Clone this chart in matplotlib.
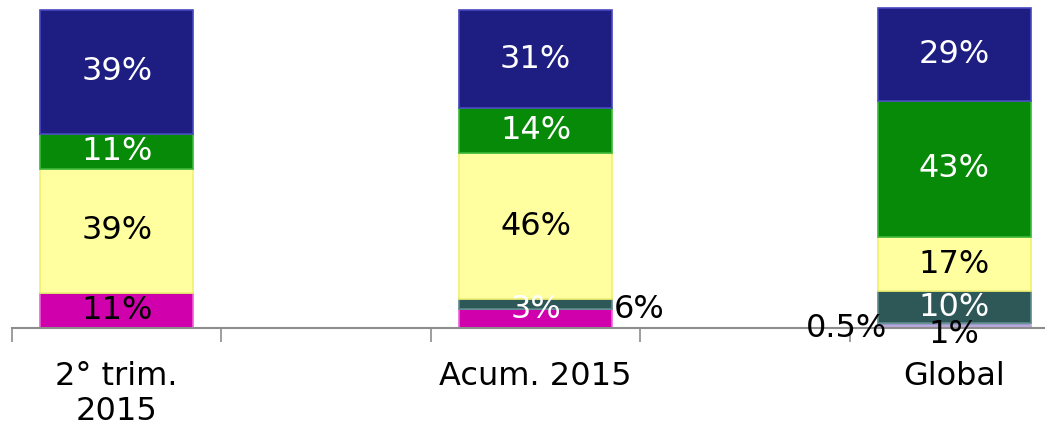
import numpy as np
import matplotlib.pyplot as plt

# categories (empty slots sit between the bars on the axis)
categories = ['2° trim.\n2015', '', 'Acum. 2015', '', 'Global']
bar_slots = [0, 2, 4]

# series, bottom to top, one value per bar
magenta = [11, 6, 0.5]
lavender = [0, 0, 1]
teal = [0, 3, 10]
yellow = [39, 46, 17]
green = [11, 14, 43]
navy = [39, 31, 29]

series = [magenta, lavender, teal, yellow, green, navy]
colors = ['#d000ac', '#9a96c8', '#2e5758', '#ffffa0', '#078a07', '#1d1d82']
edges = ['#f060d8', '#b8b4e0', '#5e8a8a', '#f0f070', '#3ab83a', '#4848c0']
text_colors = ['black', 'black', 'white', 'black', 'white', 'white']

fig = plt.figure(figsize=(10.45, 4.28), dpi=100)
ax = fig.add_axes([12 / 1045, 1 - 328 / 428, 1 - 12 / 1045, 328 / 428])

x = np.array(bar_slots, dtype=float)
width = 0.73
bottom = np.zeros(3)
rects = []
for vals, c, e in zip(series, colors, edges):
    vals = np.array(vals, dtype=float)
    r = ax.bar(x, vals, width, bottom=bottom, color=c, edgecolor=e,
               linewidth=1.2, zorder=3)
    rects.append(r)
    bottom += vals

fs = 23
# labels inside segments (skip the tiny ones, handled below)
for si, vals in enumerate(series):
    for bi, v in enumerate(vals):
        if v >= 10:
            rect = rects[si][bi]
            ax.text(rect.get_x() + rect.get_width() / 2,
                    rect.get_y() + rect.get_height() / 2,
                    f'{v:g}%', ha='center', va='center', fontsize=fs,
                    color=text_colors[si], zorder=5)

# small segments of "Acum. 2015"
r_mag = rects[0][1]
ax.text(r_mag.get_x() + r_mag.get_width() + 0.01, r_mag.get_height() * 0.95,
        '6%', ha='left', va='center', fontsize=fs, color='black', zorder=5)
ax.text(r_mag.get_x() + r_mag.get_width() / 2, r_mag.get_height() * 0.95,
        '3%', ha='center', va='center', fontsize=fs, color='white', zorder=5)

# small segments of "Global"
r3 = rects[0][2]
ax.text(r3.get_x() + 0.045, -0.3, '0.5%', ha='right', va='center',
        fontsize=fs, color='black', zorder=5, clip_on=False)
ax.text(r3.get_x() + r3.get_width() / 2, -2.0, '1%', ha='center',
        va='center', fontsize=fs, color='black', zorder=5, clip_on=False)

ax.set_xticks(np.arange(-0.5, 5.0, 1.0))
ax.set_xticklabels([])
ax.tick_params(axis='x', which='major', direction='out', length=10,
               width=1.2, color='#8c8c8c')
ax.set_xticks(bar_slots, [categories[i] for i in bar_slots], minor=True)
ax.tick_params(axis='x', which='minor', length=0, labelsize=fs, pad=24)
for lbl in ax.get_xticklabels(minor=True):
    lbl.set_linespacing(1.15)
    lbl.set_va('top')

ax.set_xlim(-0.5, 4.433)
ax.set_ylim(0, 103.1)

ax.set_yticks([])
for s in ['top', 'right', 'left']:
    ax.spines[s].set_visible(False)
ax.spines['bottom'].set_color('#8c8c8c')
ax.spines['bottom'].set_linewidth(1.5)
ax.spines['bottom'].set_zorder(4)
ax.set_facecolor('none')

fig.savefig('out.png', dpi=100)
